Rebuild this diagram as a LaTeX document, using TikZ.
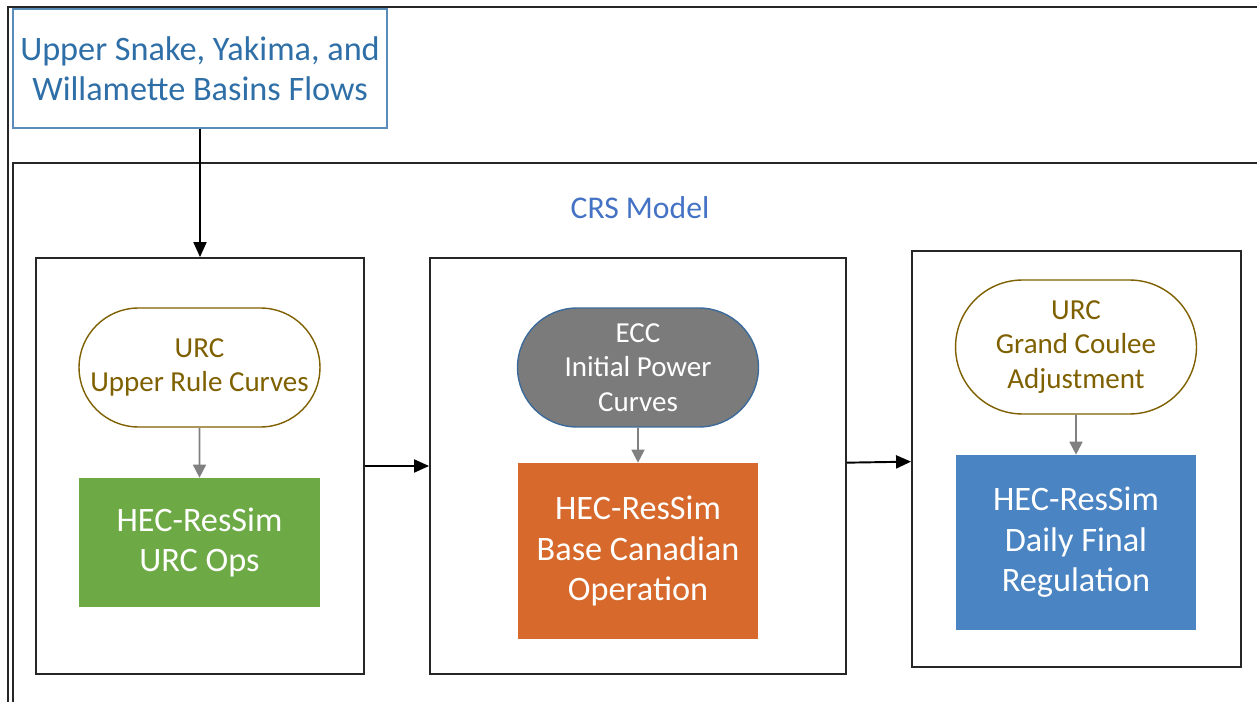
\documentclass[tikz,border=0pt]{standalone}
\usepackage{fontspec}
\setmainfont{Carlito}
\definecolor{RSgreen}{HTML}{6DAA45}
\definecolor{RSorange}{HTML}{D6692B}
\definecolor{RSblue}{HTML}{4A84C2}
\definecolor{RSgrey}{HTML}{7B7B7B}
\definecolor{URCgold}{HTML}{7F6000}
\definecolor{FLOWblue}{HTML}{2F6FA7}
\definecolor{CRSblue}{HTML}{4472C4}
\usetikzlibrary{arrows.meta,shapes.misc}

\begin{document}
\begin{tikzpicture}[x=0.02cm,y=-0.02cm,
  outerline/.style={draw=black!85,line width=1.5pt},
  stagebox/.style={draw=black!85,line width=1.1pt,minimum height=8.32cm,inner sep=0pt},
  urcpill/.style={rounded rectangle,draw=URCgold,line width=0.8pt,text=URCgold,align=center,
    minimum width=4.82cm,minimum height=2.38cm,inner sep=0pt,font=\fontsize{16.5}{19.8}\selectfont},
  opsbox/.style={text=white,align=center,minimum width=4.82cm,inner sep=0pt,
    font=\fontsize{19.5}{23}\selectfont},
  mainarrow/.style={-{Triangle[length=0.3cm,width=0.26cm]},line width=1.1pt,black},
  subarrow/.style={-{Triangle[length=0.26cm,width=0.26cm]},line width=1pt,gray}]
  \useasboundingbox (0,0) rectangle (1257,702);
  \clip (0,0) rectangle (1257,702);
  \draw[outerline] (8,7) rectangle (1300,760);
  \draw[outerline] (13,163) rectangle (1300,760);

  \node[draw=FLOWblue!80,line width=0.8pt,text=FLOWblue,align=center,minimum width=7.48cm,
    minimum height=2.38cm,font=\fontsize{19.5}{23}\selectfont] (flows) at (200,68.5)
    {Upper Snake, Yakima, and\\Willamette Basins Flows};
  \node[text=CRSblue,font=\fontsize{18}{22}\selectfont] (crs) at (640,208) {CRS Model};

  \node[stagebox,minimum width=6.56cm] (urcstage) at (200,466) {};
  \node[stagebox,minimum width=8.32cm] (basestage) at (638,466) {};
  \node[stagebox,minimum width=6.58cm] (finalstage) at (1076.5,459) {};

  \node[urcpill] (urc) at (199.5,367.5) {URC\\Upper Rule Curves};
  \node[opsbox,fill=RSgreen,minimum height=2.58cm] (urcops) at (199.5,542.5) {HEC-ResSim\\URC Ops};

  \node[urcpill,fill=RSgrey,draw=RSblue!80!black,text=white] (ecc) at (638,367.5)
    {ECC\\Initial Power\\Curves};
  \node[opsbox,fill=RSorange,minimum height=3.52cm] (baseops) at (638,551)
    {HEC-ResSim\\Base Canadian\\Operation};

  \node[urcpill,minimum height=2.68cm] (gcadj) at (1076,347) {URC\\Grand Coulee\\Adjustment};
  \node[opsbox,fill=RSblue,minimum height=3.5cm] (finalops) at (1076,542.5)
    {HEC-ResSim\\Daily Final\\Regulation};

  \draw[mainarrow] (flows) -- (urcstage);
  \draw[mainarrow] (urcstage) -- (basestage);
  \draw[mainarrow] (basestage) -- (finalstage);
  \draw[subarrow] (urc) -- (urcops);
  \draw[subarrow] (ecc) -- (baseops);
  \draw[subarrow] (gcadj) -- (finalops);
\end{tikzpicture}
\end{document}
